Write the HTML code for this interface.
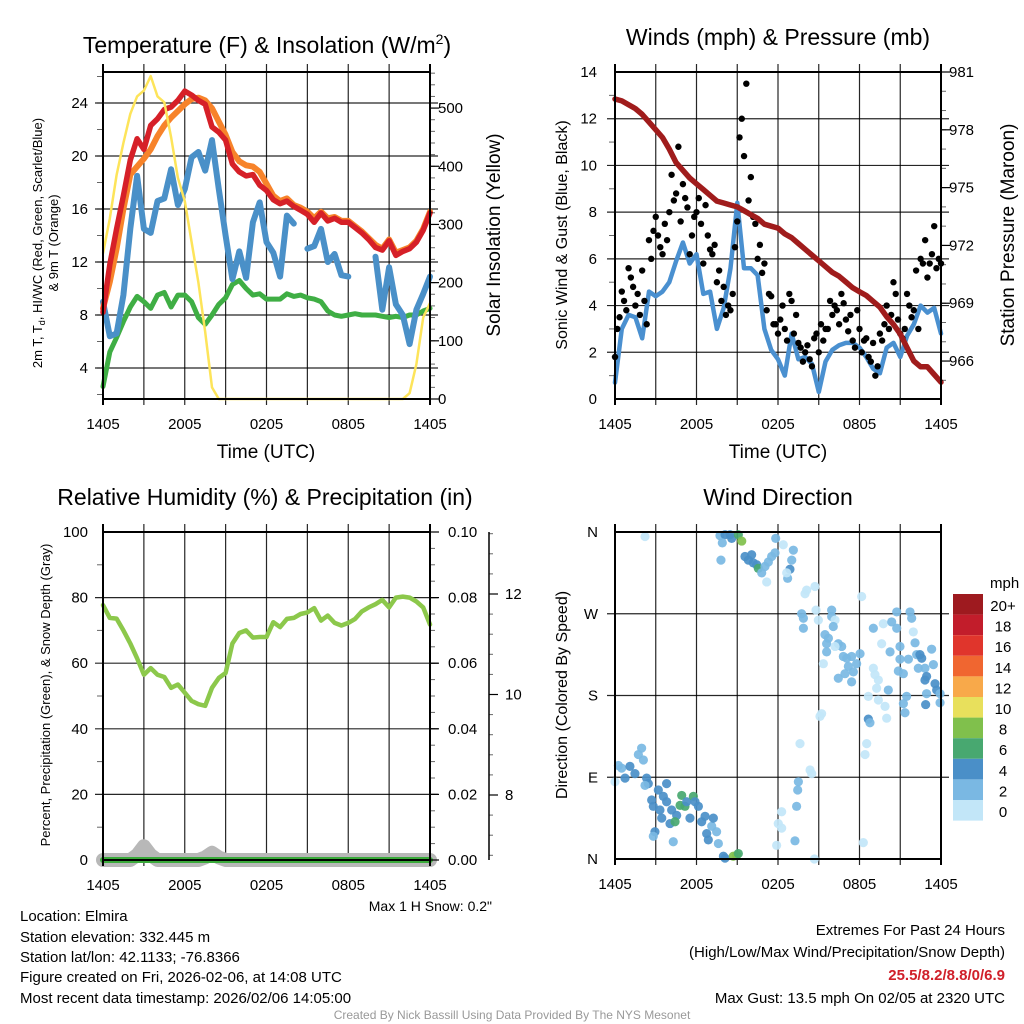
<!DOCTYPE html>
<html><head><meta charset="utf-8"><title>Mesonet Station Chart</title>
<style>
html,body{margin:0;padding:0;background:#fff;}
svg{display:block;font-family:"Liberation Sans",Arial,sans-serif;}
</style></head>
<body>
<svg id="chart" width="1024" height="1024" viewBox="0 0 1024 1024" xmlns="http://www.w3.org/2000/svg">
<rect x="0" y="0" width="1024" height="1024" fill="#fff"/>
<g id="grids"></g>
<g id="marks"></g>
<g id="frames"></g>
<g id="ticks" font-size="15" fill="#000"></g>

<text x="267" y="53" font-size="23" text-anchor="middle">Temperature (F) &amp; Insolation (W/m<tspan font-size="14" dy="-9">2</tspan><tspan dy="9">)</tspan></text>
<text x="778" y="45" font-size="23" text-anchor="middle">Winds (mph) &amp; Pressure (mb)</text>
<text x="265" y="505" font-size="23" text-anchor="middle">Relative Humidity (%) &amp; Precipitation (in)</text>
<text x="778" y="505" font-size="23" text-anchor="middle">Wind Direction</text>

<text x="266" y="458" font-size="19" text-anchor="middle">Time (UTC)</text>
<text x="778" y="458" font-size="19" text-anchor="middle">Time (UTC)</text>
<text transform="translate(42,243) rotate(-90)" font-size="13" text-anchor="middle">2m T, T<tspan font-size="9" dy="3">d</tspan><tspan dy="-3">, HI/WC (Red, Green, Scarlet/Blue)</tspan></text>
<text transform="translate(58,243) rotate(-90)" font-size="13" text-anchor="middle">&amp; 9m T (Orange)</text>
<text transform="translate(500,235) rotate(-90)" font-size="19" text-anchor="middle">Solar Insolation (Yellow)</text>
<text transform="translate(567,235) rotate(-90)" font-size="16" text-anchor="middle">Sonic Wind &amp; Gust (Blue, Black)</text>
<text transform="translate(1014,235) rotate(-90)" font-size="19" text-anchor="middle">Station Pressure (Maroon)</text>
<text transform="translate(50,695) rotate(-90)" font-size="13" text-anchor="middle">Percent, Precipitation (Green), &amp; Snow Depth (Gray)</text>
<text transform="translate(567,695) rotate(-90)" font-size="16" text-anchor="middle">Direction (Colored By Speed)</text>

<text x="990" y="588" font-size="15">mph</text>
<g id="colorbar"></g>

<text x="492" y="911" font-size="14" text-anchor="end">Max 1 H Snow: 0.2"</text>
<g font-size="15">
<text x="20" y="921">Location: Elmira</text>
<text x="20" y="942">Station elevation: 332.445 m</text>
<text x="20" y="962">Station lat/lon: 42.1133; -76.8366</text>
<text x="20" y="982">Figure created on Fri, 2026-02-06, at 14:08 UTC</text>
<text x="20" y="1003">Most recent data timestamp: 2026/02/06 14:05:00</text>
</g>
<g font-size="15" text-anchor="end">
<text x="1005" y="935">Extremes For Past 24 Hours</text>
<text x="1005" y="957">(High/Low/Max Wind/Precipitation/Snow Depth)</text>
<text x="1005" y="980" font-weight="bold" fill="#d0202a">25.5/8.2/8.8/0/6.9</text>
<text x="1005" y="1003">Max Gust: 13.5 mph On 02/05 at 2320 UTC</text>
</g>
<text x="512" y="1019" font-size="12" fill="#999" text-anchor="middle">Created By Nick Bassill Using Data Provided By The NYS Mesonet</text>
</svg>

<script>
const timeTickLabels = ["1405","2005","0205","0805","1405"];
const tempF = [8.2,11.8,14.5,17,19.7,21.3,20.5,22.3,22.8,23.5,23.7,24.2,24.9,24.6,24.2,23.9,22.2,21.8,21.2,19.4,18.8,18.5,18.6,17.8,17.4,16.7,16.4,16.6,16.2,15.9,15.6,15.0,15.7,15.1,15.3,15.0,15.0,14.6,14.2,13.7,13.1,12.9,13.6,12.5,12.8,13.0,13.5,14.4,15.7];
const temp9mF = [8.5,10.5,13.0,16.0,18.6,19.2,19.8,20.5,21.5,22.3,22.9,23.4,23.9,24.3,24.4,24.2,23.6,22.6,21.6,20.3,19.6,19.3,19.2,18.8,17.9,17.0,16.6,16.8,16.3,16.1,15.8,15.3,15.8,15.3,15.4,15.1,15.1,14.7,14.3,13.8,13.3,13.0,13.7,12.7,12.9,13.1,13.6,14.5,15.8];
const windChillF = [9.0,6.4,6.6,9.5,14.5,18.5,14.5,14.2,16.6,16.8,19.0,16.3,17.5,19.9,20.3,18.9,21.2,17.5,14.0,10.7,12.8,10.8,15.0,16.5,13.5,12.7,10.9,15.5,14.9,null,13.0,13.2,14.5,12.0,12.6,11.0,10.9,null,null,null,12.4,8.4,11.6,8.8,8.0,5.8,8.4,9.6,10.9];
const dewpointF = [2.6,5.2,6.3,7.5,8.6,9.4,9.0,8.5,9.5,9.7,8.6,9.5,9.5,9.0,7.8,7.3,8.0,8.8,9.3,10.3,10.6,10.0,9.5,9.6,9.2,9.2,9.2,9.6,9.4,9.5,9.3,9.2,9.0,8.3,8.0,7.9,8.0,8.1,8.0,8.0,8.0,7.9,7.8,7.9,7.8,8.0,8.0,8.3,8.5];
const solarWm2 = [250,310,385,440,490,520,530,555,520,510,450,380,340,270,200,115,20,0,0,0,0,0,0,0,0,0,0,0,0,0,0,0,0,0,0,0,0,0,0,0,0,0,0,0,0,10,60,140,165];
const windMph = [0.7,3.0,3.6,3.5,2.6,4.6,4.4,4.6,5.0,5.9,6.7,5.8,6.2,4.5,4.6,3.0,3.9,5.6,8.4,5.6,5.6,5.3,3.0,2.1,1.7,1.0,2.8,1.7,1.8,1.5,0.3,1.6,2.1,2.3,2.4,2.4,2.2,1.8,1.3,1.1,2.2,2.4,1.8,2.7,3.2,4.0,3.7,3.9,2.8];
const gustMphA = [1.8,3.5,4.2,5.6,4.8,4.5,5.5,3.2,6.0,7.8,6.5,7.5,8.0,8.5,10.8,9.2,8.2,7.0,8.0,7.5,8.3,6.4,6.6,5.5,4.8,4.0,4.5,7.6,12.0,13.5,9.5,7.5,6.6,5.8,4.5,3.2,2.8,4.0,2.5,4.2,3.6,2.2,2.0,1.7,2.6,2.0,2.5,3.0,3.6,3.8,4.5,3.4,3.6,2.2,3.0,2.5,1.8,2.4,1.4,2.5,4.0,3.6,4.5,2.8,3.0,4.0,3.8,3.0,5.8,5.2,6.2,5.6,5.8];
const gustMphB = [3.0,4.6,3.8,5.2,4.0,3.6,4.2,6.8,7.2,7.0,6.2,6.8,9.6,8.8,7.6,8.6,6.2,7.8,8.6,5.8,7.0,6.2,5.0,4.2,3.6,3.8,6.5,11.2,10.4,8.5,7.8,6.0,5.4,3.8,4.4,3.2,3.4,3.0,4.5,2.8,2.4,1.6,2.3,1.4,2.8,3.2,3.0,4.2,4.0,3.2,4.1,2.9,2.5,3.8,2.0,2.6,1.6,1.0,2.8,3.2,3.0,5.0,3.4,2.6,4.5,3.5,5.5,6.0,6.8,5.8,7.4,6.0];
const pressureMb = [979.6,979.5,979.3,979.1,978.8,978.4,978.0,977.6,977.0,976.3,975.9,975.5,975.2,974.9,974.6,974.3,974.2,974.1,974.0,973.8,973.6,973.4,973.1,973.0,972.9,972.6,972.4,972.1,971.8,971.5,971.2,970.9,970.6,970.4,970.1,969.8,969.6,969.4,969.1,968.8,968.3,967.9,967.4,966.7,966.0,965.7,965.7,965.3,964.9];
const rhPct = [77.7,73.8,73.6,70.0,66.0,61.5,56.5,58.5,56.5,55.8,52.5,53.5,51.0,48.5,47.5,47.0,52.5,55.5,57.0,66.0,69.2,70.0,67.8,68.0,68.0,72.5,71.0,73.5,73.8,75.0,75.5,76.8,73.0,74.5,72.3,71.5,72.3,73.5,75.8,77.0,78.0,79.3,77.0,80.0,80.3,80.0,78.8,77.0,71.8];
const precipIn = [0,0,0,0,0,0,0,0,0,0,0,0,0,0,0,0,0,0,0,0,0,0,0,0,0,0,0,0,0,0,0,0,0,0,0,0,0,0,0,0,0,0,0,0,0,0,0,0,0];
const snowBump = [0,0,0,0,0,1.5,4.2,1.5,0,0,0,0,0,0,0,0.8,2.2,0.8,0,0,0,0,0,0,0,0,0,0,0,0,0,0,0,0,0,0,0,0,0,0,0,0,0,0,0,0,0,0,0];
const dirHours = [0.0,0.25,0.49,0.74,1.10,1.47,1.72,1.96,2.09,2.33,2.45,2.21,2.70,2.82,3.19,3.31,3.44,3.56,3.80,3.80,4.05,4.17,4.54,4.79,4.91,5.15,5.28,5.52,5.77,5.89,6.14,6.38,6.63,6.75,7.12,7.24,7.48,7.61,6.87,4.42,2.94,2.82,4.29,7.98,8.10,8.71,8.96,9.08,
2.21,7.73,8.10,8.47,8.59,7.90,7.80,9.08,9.33,9.57,9.82,10.06,10.18,10.43,10.55,10.80,11.04,11.29,11.53,11.78,11.83,11.17,12.39,13.13,13.01,12.88,12.71,12.64,13.99,14.11,14.72,18.16,
13.74,13.87,13.87,14.80,14.97,15.95,15.95,16.20,16.07,15.46,15.71,15.58,16.44,16.69,16.20,15.58,16.81,17.06,17.42,17.79,17.18,17.55,18.04,15.34,16.44,17.42,16.93,
19.02,19.75,20.37,20.74,20.74,21.72,21.84,21.96,19.63,20.25,20.98,22.09,20.98,21.60,22.21,22.45,22.58,23.31,23.44,22.33,22.82,20.86,21.23,19.02,19.14,19.39,20.12,19.26,22.94,22.82,23.56,23.68,23.93,22.94,23.93,22.87,21.47,21.23,21.35,18.65,19.39,19.88,20.00,18.65,18.77,18.53,18.41,15.21,15.09,
13.62,14.36,14.48,13.50,13.45,13.37,12.27,12.02,12.27,13.25,11.90,14.68,18.28];
const dirDegrees = [85,103,100,89,102,94,115,122,109,89,83,81,65,58,76,54,45,69,83,63,39,54,48,59,70,58,63,45,69,63,58,41,47,28,36,45,30,17,21,41,30,25,19,3,1,3,4,6,
355,356,357,357,353,348,329,357,350,333,329,335,326,324,320,315,322,327,333,337,353,305,346,340,329,319,309,315,292,296,300,289,
270,265,254,274,263,274,267,263,256,247,243,237,237,234,234,228,223,221,223,215,212,206,226,215,199,195,204,
254,259,261,272,254,272,265,250,237,228,234,238,220,220,225,225,221,231,214,210,210,207,204,210,203,197,186,188,201,197,193,186,182,182,172,170,179,171,161,179,175,168,155,154,150,127,115,160,157,
127,98,94,85,76,58,52,39,34,20,15,0,18];
const dirSpeeds = [1.5,3,3,5,5,5,3,3,3,5,5,3,5,5,5,5,5,5,5,5,5,5,5,7,7,7,5.5,5,7,5.5,5,5,5,5,3,5,3,3,5,7,5,3,3,5,5,8.5,8.5,7,
1.5,3,5,5,5,3,3,7,8.5,5,5,5,5,5,7,3,3,3,3,3,3,1.5,1.5,3,3,5,3,1.5,1.5,1.5,1.5,1.5,
3,3,3,1.5,1.5,3,3,1.5,3,3,3,3,3,3,1.5,3,3,3,3,3,3,3,3,1.5,3,3,3,
3,1.5,3,3,3,3,3,1.5,1.5,3,3,3,3,3,3,5,5,3,3,3,3,3,3,1.5,1.5,1.5,3,1.5,5,5,5,5,3,3,3,5,3,3,3,1.5,1.5,1.5,1.5,5,3,1.5,1.5,1.5,1.5,
1.5,1.5,1.5,3,3,3,1.5,1.5,1.5,3,1.5,1.5,1.5];
const speedBins = ["20+","18","16","14","12","10","8","6","4","2","0"];
const speedColors = ["#9e1a1f","#c21d2b","#e0352c","#f06630","#f8a94a","#e8e05c","#80c04c","#48a870","#4a8fc8","#7ab8e3","#c2e6f8"];

const NS = "http://www.w3.org/2000/svg";
const grids = document.getElementById("grids");
const marks = document.getElementById("marks");
const frames = document.getElementById("frames");
const ticks = document.getElementById("ticks");
function mk(tag, parent, attrs){ const e=document.createElementNS(NS,tag); for(const k in attrs) e.setAttribute(k,attrs[k]); parent.appendChild(e); return e; }
function lin(d0,d1,r0,r1){ return v => r0 + (v-d0)/(d1-d0)*(r1-r0); }

const panels = {
  temp:{x0:103,x1:430,y0:72,y1:399},
  wind:{x0:615,x1:941,y0:72,y1:399},
  rh:{x0:103,x1:430,y0:532,y1:860},
  dir:{x0:615,x1:941,y0:532,y1:859}
};
for (const k in panels){ const p=panels[k]; p.sx=lin(0,24,p.x0,p.x1); }

function linePath(p, arr, sy){
  let d="", pen=false;
  arr.forEach((v,i)=>{
    if(v===null){ pen=false; return; }
    const x=p.sx(i*24/(arr.length-1)), y=sy(v);
    d += (pen?"L":"M")+x.toFixed(1)+","+y.toFixed(1);
    pen=true;
  });
  return d;
}

for (const k in panels){
  const p=panels[k];
  for(let h=3; h<24; h+=3){
    const gl = mk("line",grids,{x1:p.sx(h),x2:p.sx(h),y1:p.y0-8,y2:p.y1+6,stroke:"#000","stroke-width":1.2,"stroke-opacity":0.85});
    
    
  }
  const fr = mk("rect",frames,{x:p.x0,y:p.y0,width:p.x1-p.x0,height:p.y1-p.y0,fill:"none",stroke:"#000","stroke-width":2});
  
  
  [0,24].forEach(h=>{
    const tl = mk("line",frames,{x1:p.sx(h),x2:p.sx(h),y1:p.y0-8,y2:p.y1+6,stroke:"#000","stroke-width":2});
    
    
  });
  timeTickLabels.forEach((lab,i)=>{
    const t = mk("text",ticks,{x:p.sx(i*6),y:p.y1+30,"text-anchor":"middle"});
    t.textContent = lab;
    
    
  });
}

function hGrid(p, sy, vals){
  vals.forEach(v=>{
    const g = mk("line",grids,{x1:p.x0-8,x2:p.x1+8,y1:sy(v),y2:sy(v),stroke:"#000","stroke-width":1.2,"stroke-opacity":0.85});
    
    
  });
}
function leftLabels(p, sy, vals, labels, xr){
  vals.forEach((v,i)=>{
    const t = mk("text",ticks,{x:xr,y:sy(v)+5,"text-anchor":"end"});
    t.textContent = labels[i];
    
    
  });
}
function rightLabels(p, sy, vals, labels, xl){
  vals.forEach((v,i)=>{
    const t = mk("text",ticks,{x:xl,y:sy(v)+5,"text-anchor":"start"});
    t.textContent = labels[i];
    
    
  });
}
function minorTicks(x, sy, from, to, step, dir, len){
  for(let v=from; v<=to+1e-9; v+=step){
    const m = mk("line",frames,{x1:x,x2:x+dir*len,y1:sy(v),y2:sy(v),stroke:"#000","stroke-width":1,"stroke-opacity":0.6});
    
    
  }
}

const P1=panels.temp;
const syT = lin(1.66,26.34,P1.y1,P1.y0);
const syS = lin(0,562,P1.y1,P1.y0);
hGrid(P1, syT, [4,8,12,16,20,24]);
leftLabels(P1, syT, [4,8,12,16,20,24], ["4","8","12","16","20","24"], 88);
minorTicks(P1.x0, syT, 2, 26, 2, -1, 6);
rightLabels(P1, syS, [0,100,200,300,400,500], ["0","100","200","300","400","500"], 438);
minorTicks(P1.x1, syS, 0, 560, 20, 1, 5);
[0,100,200,300,400,500].forEach(v=>{ const m=mk("line",frames,{x1:P1.x1,x2:P1.x1+9,y1:syS(v),y2:syS(v),stroke:"#000","stroke-width":1.2});   });

let s;
s = mk("path",marks,{d:linePath(P1,dewpointF,syT),fill:"none",stroke:"#3fae44","stroke-width":5,"stroke-linejoin":"round","stroke-linecap":"round"});


s = mk("path",marks,{d:linePath(P1,windChillF,syT),fill:"none",stroke:"#4a90c8","stroke-width":6,"stroke-linejoin":"round","stroke-linecap":"round"});


s = mk("path",marks,{d:linePath(P1,temp9mF,syT),fill:"none",stroke:"#f7832a","stroke-width":6,"stroke-linejoin":"round","stroke-linecap":"round"});


s = mk("path",marks,{d:linePath(P1,tempF,syT),fill:"none",stroke:"#d62028","stroke-width":5.5,"stroke-linejoin":"round","stroke-linecap":"round"});


s = mk("path",marks,{d:linePath(P1,solarWm2,syS),fill:"none",stroke:"#fde45a","stroke-width":2.5,"stroke-linejoin":"round"});



const P2=panels.wind;
const syW = lin(0,14,P2.y1,P2.y0);
const syP = lin(964.03,981,P2.y1,P2.y0);
hGrid(P2, syW, [2,4,6,8,10,12]);
leftLabels(P2, syW, [0,2,4,6,8,10,12,14], ["0","2","4","6","8","10","12","14"], 597);
minorTicks(P2.x0, syW, 1, 13, 2, -1, 6);
rightLabels(P2, syP, [966,969,972,975,978,981], ["966","969","972","975","978","981"], 949);
minorTicks(P2.x1, syP, 965, 980, 1, 1, 5);
[966,969,972,975,978,981].forEach(v=>{ const m=mk("line",frames,{x1:P2.x1,x2:P2.x1+9,y1:syP(v),y2:syP(v),stroke:"#000","stroke-width":1.2});   });

s = mk("path",marks,{d:linePath(P2,windMph,syW),fill:"none",stroke:"#4a90d0","stroke-width":4.5,"stroke-linejoin":"round","stroke-linecap":"round"});


[gustMphA,gustMphB].forEach((arr,ai)=>{
  arr.forEach((v,i)=>{
    const h = ai===0 ? i*24/(arr.length-1) : (i+0.5)*24/arr.length;
    const c = mk("circle",marks,{cx:P2.sx(h),cy:syW(v),r:3.2,fill:"#000"});
    
    
  });
});
s = mk("path",marks,{d:linePath(P2,pressureMb,syP),fill:"none",stroke:"#a01c1c","stroke-width":5.5,"stroke-linejoin":"round","stroke-linecap":"round"});



const P3=panels.rh;
const syR = lin(0,100,P3.y1,P3.y0);
const syPr = lin(0,0.1,P3.y1,P3.y0);
hGrid(P3, syR, [20,40,60,80]);
leftLabels(P3, syR, [0,20,40,60,80,100], ["0","20","40","60","80","100"], 88);
minorTicks(P3.x0, syR, 10, 90, 20, -1, 6);
rightLabels(P3, syPr, [0,0.02,0.04,0.06,0.08,0.1], ["0.00","0.02","0.04","0.06","0.08","0.10"], 448);
minorTicks(P3.x1, syPr, 0.005, 0.1, 0.005, 1, 5);
[0,0.02,0.04,0.06,0.08,0.1].forEach(v=>{ const m=mk("line",frames,{x1:P3.x1,x2:P3.x1+9,y1:syPr(v),y2:syPr(v),stroke:"#000","stroke-width":1.2});   });
const snowAxisX = 489;
const sySn = lin(8,12,795,594);
s = mk("line",frames,{x1:snowAxisX,x2:snowAxisX,y1:P3.y0,y2:P3.y1,stroke:"#000","stroke-width":1.5});


minorTicks(snowAxisX, sySn, 6.8, 13.2, 0.4, 1, 4);
[8,10,12].forEach(v=>{
  const m=mk("line",frames,{x1:snowAxisX,x2:snowAxisX+9,y1:sySn(v),y2:sySn(v),stroke:"#000","stroke-width":1.2});
  
  
});
rightLabels(P3, sySn, [8,10,12], ["8","10","12"], 505);

let gd = "";
snowBump.forEach((v,i)=>{ gd += (i?"L":"M")+P3.sx(i*24/(snowBump.length-1)).toFixed(1)+","+(syR(v)).toFixed(1); });
s = mk("path",marks,{d:gd,fill:"none",stroke:"#b8b8b8","stroke-width":14,"stroke-linejoin":"round","stroke-linecap":"round"});


s = mk("path",marks,{d:linePath(P3,precipIn,syPr),fill:"none",stroke:"#3aaa3a","stroke-width":6,"stroke-linecap":"round"});


s = mk("path",marks,{d:linePath(P3,rhPct,syR),fill:"none",stroke:"#8cc84b","stroke-width":4.5,"stroke-linejoin":"round","stroke-linecap":"round"});



const P4=panels.dir;
const syD = lin(0,360,P4.y1,P4.y0);
hGrid(P4, syD, [90,180,270]);
leftLabels(P4, syD, [0,90,180,270,360], ["N","E","S","W","N"], 598);
function speedColor(v){ const idx = Math.min(10, Math.floor(v/2)); return speedColors[10-idx]; }
dirHours.forEach((h,i)=>{
  const c = mk("circle",marks,{cx:P4.sx(h),cy:syD(dirDegrees[i]),r:4.6,fill:speedColor(dirSpeeds[i]),"fill-opacity":0.92});
  
  
});

const cb = document.getElementById("colorbar");
speedBins.forEach((lab,i)=>{
  const y = 594 + i*20.6;
  const r = mk("rect",cb,{x:953,y:y,width:30,height:20.6,fill:speedColors[i]});
  
  
  const t = mk("text",cb,{x:1003,y:y+17,"font-size":15,"text-anchor":"middle"});
  t.textContent = lab;
  
  
});
</script>
</body></html>
